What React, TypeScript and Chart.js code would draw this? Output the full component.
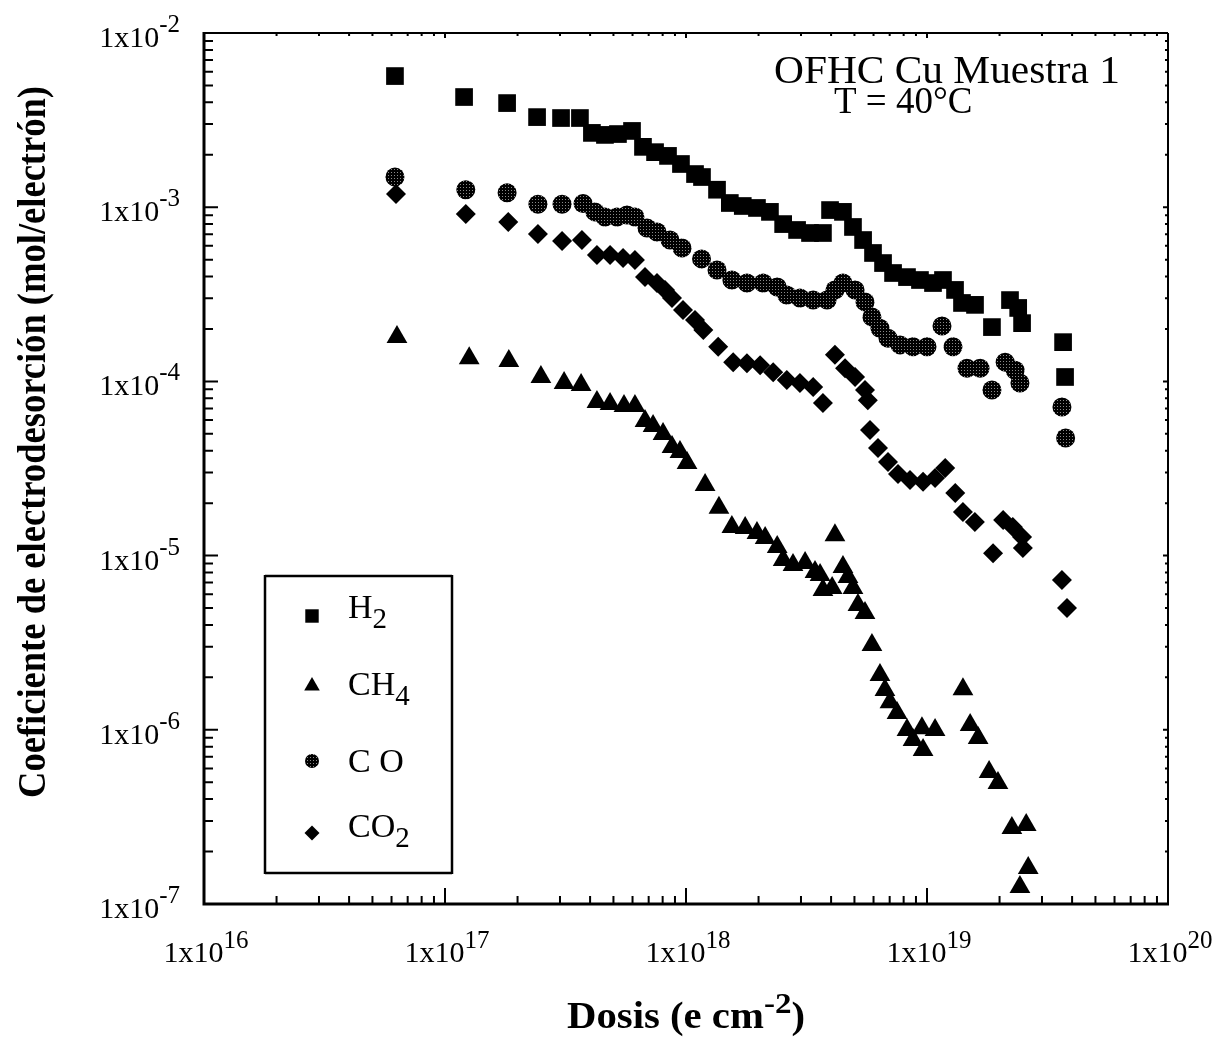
import React, { useEffect, useRef } from 'react';
import { Chart, registerables } from 'chart.js';

Chart.register(...registerables);

// ---------- axis definitions ----------
const X_MIN = 1e16;
const X_MAX = 1e20;
const Y_MIN = 1e-7;
const Y_MAX = 1e-2;
const X_TICK_EXPONENTS = [16, 17, 18, 19, 20];
const Y_TICK_EXPONENTS = [-7, -6, -5, -4, -3, -2];

// ---------- text ----------
const TITLE_LINE_1 = 'OFHC Cu Muestra 1';
const TITLE_LINE_2 = 'T = 40°C';
const X_TITLE = 'Dosis (e cm';
const X_TITLE_SUP = '-2';
const Y_TITLE = 'Coeficiente de electrodesorción (mol/electrón)';
const SERIES_BASE = ['H', 'CH', 'C O', 'CO'];
const SERIES_SUB = ['2', '4', '', '2'];

// ---------- data: H2 ----------
const H2_DOSE = [6.2e16, 1.2e17, 1.81e17, 2.41e17, 3.03e17, 3.63e17, 4.07e17, 4.61e17, 5.22e17, 5.97e17,
  6.63e17, 7.44e17, 8.42e17, 9.53e17, 1.09e18, 1.165e18, 1.345e18, 1.52e18, 1.72e18, 1.97e18,
  2.23e18, 2.53e18, 2.89e18, 3.27e18, 3.70e18, 3.96e18, 4.48e18, 4.93e18, 5.43e18, 5.97e18,
  6.57e18, 7.23e18, 8.26e18, 9.35e18, 1.059e19, 1.165e19, 1.307e19, 1.397e19, 1.582e19, 1.86e19,
  2.21e19, 2.39e19, 2.48e19, 3.67e19, 3.74e19];
const H2_COEF = [5.66e-3, 4.29e-3, 3.96e-3, 3.29e-3, 3.25e-3, 3.25e-3, 2.67e-3, 2.60e-3, 2.63e-3, 2.74e-3,
  2.22e-3, 2.07e-3, 1.97e-3, 1.77e-3, 1.55e-3, 1.49e-3, 1.26e-3, 1.057e-3, 1.016e-3, 9.9e-4,
  9.4e-4, 8.0e-4, 7.4e-4, 7.11e-4, 7.11e-4, 9.63e-4, 9.4e-4, 7.7e-4, 6.48e-4, 5.46e-4,
  4.78e-4, 4.19e-4, 3.97e-4, 3.82e-4, 3.67e-4, 3.82e-4, 3.35e-4, 2.82e-4, 2.75e-4, 2.05e-4,
  2.93e-4, 2.64e-4, 2.16e-4, 1.68e-4, 1.06e-4];

// ---------- data: CH4 ----------
const CH4_DOSE = [6.32e16, 1.26e17, 1.84e17, 2.50e17, 3.12e17, 3.67e17, 4.27e17, 4.84e17, 5.53e17, 6.14e17,
  6.76e17, 7.30e17, 8.03e17, 8.75e17, 9.44e17, 1.01e18, 1.20e18, 1.37e18, 1.55e18, 1.76e18,
  1.97e18, 2.13e18, 2.39e18, 2.53e18, 2.78e18, 3.12e18, 3.43e18, 3.60e18, 3.70e18, 4.04e18,
  4.15e18, 4.48e18, 4.70e18, 4.93e18, 5.17e18, 5.53e18, 5.91e18, 6.38e18, 6.69e18, 7.02e18,
  7.51e18, 8.26e18, 8.75e18, 9.53e18, 9.63e18, 1.08e19, 1.41e19, 1.51e19, 1.63e19, 1.81e19,
  1.97e19, 2.25e19, 2.58e19, 2.63e19, 2.43e19];
const CH4_COEF = [1.80e-4, 1.36e-4, 1.31e-4, 1.06e-4, 9.8e-5, 9.53e-5, 7.62e-5, 7.42e-5, 7.22e-5, 7.22e-5,
  5.93e-5, 5.55e-5, 4.99e-5, 4.20e-5, 3.93e-5, 3.40e-5, 2.54e-5, 1.88e-5, 1.46e-5, 1.44e-5,
  1.35e-5, 1.26e-5, 1.12e-5, 9.43e-6, 8.83e-6, 9.07e-6, 8.05e-6, 7.74e-6, 6.35e-6, 6.52e-6,
  1.31e-5, 8.60e-6, 7.54e-6, 6.52e-6, 5.2e-6, 4.68e-6, 3.07e-6, 2.06e-6, 1.69e-6, 1.44e-6,
  1.25e-6, 9.97e-7, 8.74e-7, 1.02e-6, 7.66e-7, 9.97e-7, 1.71e-6, 1.065e-6, 8.97e-7, 5.72e-7,
  4.95e-7, 2.73e-7, 2.84e-7, 1.61e-7, 1.25e-7];

// ---------- data: CO ----------
const CO_DOSE = [6.2e16, 1.22e17, 1.81e17, 2.43e17, 3.06e17, 3.74e17, 4.19e17, 4.61e17, 5.17e17, 5.69e17,
  6.14e17, 6.89e17, 7.58e17, 8.58e17, 9.63e17, 1.16e18, 1.345e18, 1.55e18, 1.79e18, 2.09e18,
  2.39e18, 2.62e18, 2.97e18, 3.37e18, 3.85e18, 4.15e18, 4.48e18, 5.03e18, 5.53e18, 5.91e18,
  6.38e18, 6.89e18, 7.73e18, 8.75e18, 1.0e19, 1.154e19, 1.282e19, 1.466e19, 1.66e19, 1.86e19,
  2.11e19, 2.32e19, 2.43e19, 3.63e19, 3.76e19];
const CO_COEF = [1.49e-3, 1.26e-3, 1.21e-3, 1.04e-3, 1.04e-3, 1.05e-3, 9.4e-4, 8.79e-4, 8.79e-4, 9.02e-4,
  8.79e-4, 7.60e-4, 7.20e-4, 6.48e-4, 5.83e-4, 5.05e-4, 4.36e-4, 3.82e-4, 3.67e-4, 3.67e-4,
  3.48e-4, 3.13e-4, 3.01e-4, 2.93e-4, 2.93e-4, 3.35e-4, 3.67e-4, 3.35e-4, 2.86e-4, 2.34e-4,
  2.02e-4, 1.77e-4, 1.62e-4, 1.58e-4, 1.58e-4, 2.08e-4, 1.58e-4, 1.19e-4, 1.19e-4, 8.93e-5,
  1.29e-4, 1.16e-4, 9.8e-5, 7.13e-5, 4.73e-5];

// ---------- data: CO2 ----------
const CO2_DOSE = [6.26e16, 1.22e17, 1.83e17, 2.43e17, 3.06e17, 3.70e17, 4.27e17, 4.84e17, 5.48e17, 6.14e17,
  6.76e17, 7.58e17, 8.18e17, 8.75e17, 9.72e17, 1.09e18, 1.18e18, 1.36e18, 1.57e18, 1.79e18,
  2.03e18, 2.30e18, 2.62e18, 2.97e18, 3.37e18, 3.70e18, 4.15e18, 4.57e18, 5.03e18, 5.53e18,
  5.68e18, 5.80e18, 6.26e18, 6.89e18, 7.58e18, 8.50e18, 9.63e18, 1.08e19, 1.19e19, 1.31e19,
  1.41e19, 1.58e19, 1.88e19, 2.07e19, 2.27e19, 2.48e19, 2.50e19, 3.63e19, 3.81e19];
const CO2_COEF = [1.19e-3, 9.14e-4, 8.22e-4, 7.02e-4, 6.40e-4, 6.48e-4, 5.32e-4, 5.32e-4, 5.11e-4, 4.98e-4,
  3.97e-4, 3.67e-4, 3.35e-4, 3.01e-4, 2.57e-4, 2.25e-4, 1.97e-4, 1.58e-4, 1.29e-4, 1.27e-4,
  1.24e-4, 1.13e-4, 1.02e-4, 9.8e-5, 9.29e-5, 7.52e-5, 1.42e-4, 1.19e-4, 1.06e-4, 8.93e-5,
  7.8e-5, 5.26e-5, 4.15e-5, 3.45e-5, 2.94e-5, 2.72e-5, 2.65e-5, 2.79e-5, 3.18e-5, 2.29e-5,
  1.78e-5, 1.56e-5, 1.03e-5, 1.60e-5, 1.46e-5, 1.28e-5, 1.105e-5, 7.24e-6, 5.0e-6];

const FONT = '"Liberation Serif", "Times New Roman", serif';

type Seg = { t: string; size: number; dy: number; bold?: boolean };

function fontOf(s: Seg) {
  return `${s.bold ? 'bold ' : ''}${s.size}px ${FONT}`;
}

function drawRich(ctx: CanvasRenderingContext2D, segs: Seg[], x: number, y: number,
  align: 'left' | 'right' | 'center', fitWidth?: number) {
  const widths = segs.map((s) => { ctx.font = fontOf(s); return ctx.measureText(s.t).width; });
  const total = widths.reduce((a, b) => a + b, 0);
  const k = fitWidth ? fitWidth / total : 1;
  ctx.save();
  ctx.translate(x, y);
  ctx.scale(k, 1);
  ctx.textBaseline = 'alphabetic';
  ctx.textAlign = 'left';
  ctx.fillStyle = '#000';
  let cx = align === 'left' ? 0 : align === 'right' ? -total : -total / 2;
  segs.forEach((s, i) => {
    ctx.font = fontOf(s);
    ctx.fillText(s.t, cx, s.dy);
    cx += widths[i];
  });
  ctx.restore();
}

// legend marker shapes (same geometry as Chart.js point styles)
function drawMarker(ctx: CanvasRenderingContext2D, style: string, r: number, x: number, y: number) {
  ctx.beginPath();
  if (style === 'rect') {
    const s = Math.SQRT1_2 * r;
    ctx.rect(x - s, y - s, 2 * s, 2 * s);
  } else if (style === 'triangle') {
    for (let k = 0; k < 3; k++) {
      const a = (k * 2 * Math.PI) / 3;
      const px = x + Math.sin(a) * r;
      const py = y - Math.cos(a) * r;
      if (k === 0) ctx.moveTo(px, py); else ctx.lineTo(px, py);
    }
    ctx.closePath();
  } else if (style === 'circle') {
    ctx.arc(x, y, r, 0, Math.PI * 2);
  } else {
    ctx.moveTo(x - r, y);
    ctx.lineTo(x, y - r);
    ctx.lineTo(x + r, y);
    ctx.lineTo(x, y + r);
    ctx.closePath();
  }
  ctx.fill();
}

export default function App() {
  const ref = useRef<HTMLCanvasElement | null>(null);

  useEffect(() => {
    const canvas = ref.current;
    if (!canvas) return;
    const ctx0 = canvas.getContext('2d')!;

    // dithered fill used for the CO circles
    const tile = document.createElement('canvas');
    tile.width = 3;
    tile.height = 3;
    const tg = tile.getContext('2d')!;
    tg.fillStyle = '#000';
    tg.fillRect(0, 0, 3, 3);
    tg.fillStyle = '#8a8a8a';
    tg.fillRect(1, 1, 1, 1);
    const coFill: any = ctx0.createPattern(tile, 'repeat') || '#333';

    const styles = [
      { pointStyle: 'rect', radius: 12.5, fill: '#000', legendRadius: 9.5 },
      { pointStyle: 'triangle', radius: 12, fill: '#000', legendRadius: 9 },
      { pointStyle: 'circle', radius: 9.5, fill: coFill, legendRadius: 7 },
      { pointStyle: 'rectRot', radius: 10, fill: '#000', legendRadius: 7.5 },
    ];
    const doses = [H2_DOSE, CH4_DOSE, CO_DOSE, CO2_DOSE];
    const coefs = [H2_COEF, CH4_COEF, CO_COEF, CO2_COEF];

    const datasets = doses.map((d, i) => ({
      label: SERIES_BASE[i] + SERIES_SUB[i],
      data: d.map((x, j) => ({ x, y: coefs[i][j] })),
      pointStyle: styles[i].pointStyle as any,
      pointRadius: styles[i].radius,
      pointHoverRadius: styles[i].radius,
      backgroundColor: styles[i].fill,
      borderColor: styles[i].fill,
      borderWidth: 0,
      showLine: false,
    }));

    const framePlugin = {
      id: 'frameAndText',
      afterDatasetsDraw(chart: any) {
        const ctx: CanvasRenderingContext2D = chart.ctx;
        const { left, right, top, bottom } = chart.chartArea;
        const xs = chart.scales.x;
        const ys = chart.scales.y;
        ctx.save();
        ctx.strokeStyle = '#000';
        ctx.lineCap = 'butt';

        // frame
        ctx.lineWidth = 2;
        ctx.beginPath();
        ctx.moveTo(left, top); ctx.lineTo(right, top);
        ctx.moveTo(right, top); ctx.lineTo(right, bottom);
        ctx.stroke();
        ctx.lineWidth = 3;
        ctx.beginPath();
        ctx.moveTo(left, top - 1); ctx.lineTo(left, bottom + 1.5);
        ctx.moveTo(left - 1.5, bottom); ctx.lineTo(right + 1, bottom);
        ctx.stroke();

        // x ticks (bottom inward, top small)
        ctx.lineWidth = 2;
        for (let e = 16; e <= 20; e++) {
          for (let m = 1; m <= 9; m++) {
            const v = m * Math.pow(10, e);
            if (v > X_MAX * 1.0001) break;
            const px = xs.getPixelForValue(v);
            const major = m === 1;
            ctx.beginPath();
            ctx.moveTo(px, bottom);
            ctx.lineTo(px, bottom - (major ? 16 : 8));
            ctx.moveTo(px, top);
            ctx.lineTo(px, top + (major ? 5 : 3));
            ctx.stroke();
          }
        }
        // y ticks (left inward, right small)
        for (let e = -7; e <= -2; e++) {
          for (let m = 1; m <= 9; m++) {
            const v = m * Math.pow(10, e);
            if (v > Y_MAX * 1.0001) break;
            const py = ys.getPixelForValue(v);
            const major = m === 1;
            ctx.beginPath();
            ctx.moveTo(left, py);
            ctx.lineTo(left + (major ? 14 : 9), py);
            ctx.moveTo(right, py);
            ctx.lineTo(right - (major ? 5 : 3), py);
            ctx.stroke();
          }
        }

        // tick labels
        X_TICK_EXPONENTS.forEach((e) => {
          const px = xs.getPixelForValue(Math.pow(10, e));
          drawRich(ctx, [
            { t: '1x10', size: 30, dy: 0 },
            { t: String(e), size: 25, dy: -14 },
          ], px + 2, bottom + 58, 'center');
        });
        Y_TICK_EXPONENTS.forEach((e) => {
          const py = ys.getPixelForValue(Math.pow(10, e));
          drawRich(ctx, [
            { t: '1x10', size: 30, dy: 0 },
            { t: String(e), size: 25, dy: -15 },
          ], left - 24, py + 14, 'right');
        });

        // axis titles
        drawRich(ctx, [
          { t: X_TITLE, size: 37, dy: 0, bold: true },
          { t: X_TITLE_SUP, size: 30, dy: -15, bold: true },
          { t: ')', size: 37, dy: 0, bold: true },
        ], 686, 1028, 'center', 238);

        ctx.save();
        ctx.translate(45, 442);
        ctx.rotate(-Math.PI / 2);
        drawRich(ctx, [{ t: Y_TITLE, size: 40, dy: 0, bold: true }], 0, 0, 'center', 712);
        ctx.restore();

        // annotation
        drawRich(ctx, [{ t: TITLE_LINE_1, size: 39, dy: 0 }], 774, 83, 'left', 346);
        drawRich(ctx, [{ t: TITLE_LINE_2, size: 37, dy: 0 }], 834, 113, 'left');

        // legend box
        const lb = { l: 265, r: 452, t: 576, b: 873 };
        ctx.lineWidth = 2.5;
        ctx.beginPath();
        ctx.moveTo(lb.l, lb.t); ctx.lineTo(lb.r, lb.t);
        ctx.moveTo(lb.l, lb.b); ctx.lineTo(lb.r, lb.b);
        ctx.moveTo(lb.l, lb.t - 1); ctx.lineTo(lb.l, lb.b + 1);
        ctx.moveTo(lb.r, lb.t - 1); ctx.lineTo(lb.r, lb.b + 1);
        ctx.stroke();

        const rowY = [616, 686, 761, 833];
        const textBase = [618, 695, 772, 837];
        styles.forEach((st, i) => {
          ctx.fillStyle = st.fill;
          drawMarker(ctx, st.pointStyle, st.legendRadius, 312, rowY[i]);
          const segs: Seg[] = [{ t: SERIES_BASE[i], size: 34, dy: 0 }];
          if (SERIES_SUB[i]) segs.push({ t: SERIES_SUB[i], size: 29, dy: 10 });
          drawRich(ctx, segs, 348, textBase[i], 'left');
        });

        ctx.restore();
      },
    };

    const chart = new Chart(canvas, {
      type: 'scatter',
      data: { datasets: datasets as any },
      options: {
        animation: false,
        responsive: false,
        events: [],
        layout: { padding: { top: 33, right: 54, left: 0, bottom: 0 } },
        plugins: { legend: { display: false }, tooltip: { enabled: false } },
        scales: {
          x: {
            type: 'logarithmic',
            min: X_MIN,
            max: X_MAX,
            grid: { display: false, drawTicks: false },
            border: { display: false },
            ticks: { display: false },
            afterFit: (s: any) => { s.height = 134; },
          },
          y: {
            type: 'logarithmic',
            min: Y_MIN,
            max: Y_MAX,
            grid: { display: false, drawTicks: false },
            border: { display: false },
            ticks: { display: false },
            afterFit: (s: any) => { s.width = 204; },
          },
        },
      } as any,
      plugins: [framePlugin],
    });

    return () => chart.destroy();
  }, []);

  return (
    <canvas
      ref={ref}
      width={1222}
      height={1038}
      style={{ position: 'fixed', left: 0, top: 0, width: 1222, height: 1038, background: '#fff' }}
    />
  );
}
